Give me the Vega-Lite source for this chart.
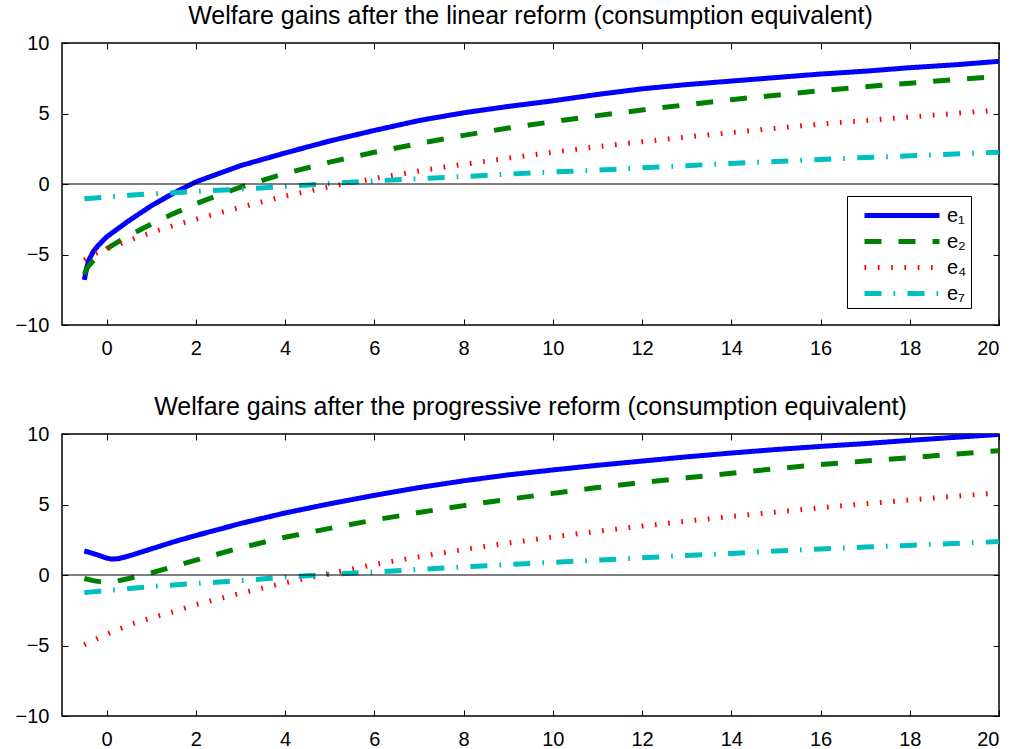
{
  "$schema": "https://vega.github.io/schema/vega-lite/v6.json",
  "padding": {"left": 14, "top": 3, "right": 5, "bottom": 0},
  "spacing": 35,
  "config": {
    "font": "Liberation Sans",
    "view": {"stroke": "black", "strokeWidth": 1.5},
    "axis": {"grid": false, "domain": false, "tickColor": "black", "tickSize": -6, "tickWidth": 1, "labelFontSize": 20, "labelColor": "black", "labelFont": "Liberation Sans", "labelPadding": 19},
    "title": {"fontSize": 25, "fontWeight": "normal", "color": "black", "font": "Liberation Sans", "offset": 4}
  },
  "resolve": {"legend": {"color": "independent", "strokeDash": "independent"}, "scale": {"color": "independent", "strokeDash": "independent"}},
  "datasets": {
    "linear": [
      {"s":"e₁","x":-0.5,"y":-6.8},{"s":"e₁","x":-0.45,"y":-6.0},{"s":"e₁","x":-0.4,"y":-5.4},{"s":"e₁","x":-0.3,"y":-4.8},{"s":"e₁","x":-0.2,"y":-4.4},{"s":"e₁","x":0,"y":-3.75},{"s":"e₁","x":0.5,"y":-2.6},{"s":"e₁","x":1,"y":-1.55},{"s":"e₁","x":1.5,"y":-0.65},{"s":"e₁","x":2,"y":0.15},{"s":"e₁","x":3,"y":1.3},{"s":"e₁","x":4,"y":2.2},{"s":"e₁","x":5,"y":3.05},{"s":"e₁","x":6,"y":3.8},{"s":"e₁","x":7,"y":4.5},{"s":"e₁","x":8,"y":5.05},{"s":"e₁","x":9,"y":5.5},{"s":"e₁","x":10,"y":5.9},{"s":"e₁","x":11,"y":6.35},{"s":"e₁","x":12,"y":6.75},{"s":"e₁","x":13,"y":7.05},{"s":"e₁","x":14,"y":7.3},{"s":"e₁","x":15,"y":7.55},{"s":"e₁","x":16,"y":7.8},{"s":"e₁","x":17,"y":8.0},{"s":"e₁","x":18,"y":8.25},{"s":"e₁","x":19,"y":8.45},{"s":"e₁","x":20,"y":8.7},
      {"s":"e₂","x":-0.5,"y":-6.4},{"s":"e₂","x":-0.45,"y":-6.05},{"s":"e₂","x":-0.4,"y":-5.8},{"s":"e₂","x":-0.3,"y":-5.45},{"s":"e₂","x":-0.2,"y":-5.15},{"s":"e₂","x":0,"y":-4.6},{"s":"e₂","x":0.5,"y":-3.65},{"s":"e₂","x":1,"y":-2.85},{"s":"e₂","x":1.5,"y":-2.1},{"s":"e₂","x":2,"y":-1.4},{"s":"e₂","x":3,"y":-0.22},{"s":"e₂","x":4,"y":0.75},{"s":"e₂","x":5,"y":1.55},{"s":"e₂","x":6,"y":2.25},{"s":"e₂","x":7,"y":2.87},{"s":"e₂","x":8,"y":3.45},{"s":"e₂","x":9,"y":3.97},{"s":"e₂","x":10,"y":4.42},{"s":"e₂","x":11,"y":4.85},{"s":"e₂","x":12,"y":5.25},{"s":"e₂","x":13,"y":5.62},{"s":"e₂","x":14,"y":5.98},{"s":"e₂","x":15,"y":6.3},{"s":"e₂","x":16,"y":6.62},{"s":"e₂","x":17,"y":6.9},{"s":"e₂","x":18,"y":7.15},{"s":"e₂","x":19,"y":7.4},{"s":"e₂","x":20,"y":7.62},
      {"s":"e₄","x":-0.5,"y":-5.4},{"s":"e₄","x":-0.4,"y":-5.2},{"s":"e₄","x":-0.2,"y":-4.85},{"s":"e₄","x":0,"y":-4.6},{"s":"e₄","x":0.5,"y":-4.0},{"s":"e₄","x":1,"y":-3.45},{"s":"e₄","x":1.5,"y":-2.95},{"s":"e₄","x":2,"y":-2.5},{"s":"e₄","x":3,"y":-1.65},{"s":"e₄","x":4,"y":-0.85},{"s":"e₄","x":5,"y":-0.2},{"s":"e₄","x":6,"y":0.4},{"s":"e₄","x":7,"y":0.92},{"s":"e₄","x":8,"y":1.4},{"s":"e₄","x":9,"y":1.83},{"s":"e₄","x":10,"y":2.25},{"s":"e₄","x":11,"y":2.65},{"s":"e₄","x":12,"y":3.0},{"s":"e₄","x":13,"y":3.33},{"s":"e₄","x":14,"y":3.65},{"s":"e₄","x":15,"y":3.95},{"s":"e₄","x":16,"y":4.25},{"s":"e₄","x":17,"y":4.5},{"s":"e₄","x":18,"y":4.75},{"s":"e₄","x":19,"y":5.0},{"s":"e₄","x":20,"y":5.25},
      {"s":"e₇","x":-0.5,"y":-1.05},{"s":"e₇","x":0,"y":-0.92},{"s":"e₇","x":0.5,"y":-0.8},{"s":"e₇","x":1,"y":-0.7},{"s":"e₇","x":1.5,"y":-0.62},{"s":"e₇","x":2,"y":-0.53},{"s":"e₇","x":3,"y":-0.37},{"s":"e₇","x":4,"y":-0.18},{"s":"e₇","x":5,"y":0.03},{"s":"e₇","x":6,"y":0.22},{"s":"e₇","x":7,"y":0.38},{"s":"e₇","x":8,"y":0.53},{"s":"e₇","x":9,"y":0.7},{"s":"e₇","x":10,"y":0.85},{"s":"e₇","x":11,"y":0.98},{"s":"e₇","x":12,"y":1.15},{"s":"e₇","x":13,"y":1.3},{"s":"e₇","x":14,"y":1.46},{"s":"e₇","x":15,"y":1.6},{"s":"e₇","x":16,"y":1.74},{"s":"e₇","x":17,"y":1.88},{"s":"e₇","x":18,"y":2.0},{"s":"e₇","x":19,"y":2.13},{"s":"e₇","x":20,"y":2.26}
    ],
    "progressive": [
      {"s":"e₁","x":-0.5,"y":1.7},{"s":"e₁","x":-0.4,"y":1.62},{"s":"e₁","x":-0.2,"y":1.42},{"s":"e₁","x":0,"y":1.2},{"s":"e₁","x":0.1,"y":1.13},{"s":"e₁","x":0.25,"y":1.15},{"s":"e₁","x":0.5,"y":1.35},{"s":"e₁","x":1,"y":1.85},{"s":"e₁","x":1.5,"y":2.35},{"s":"e₁","x":2,"y":2.8},{"s":"e₁","x":3,"y":3.65},{"s":"e₁","x":4,"y":4.4},{"s":"e₁","x":5,"y":5.05},{"s":"e₁","x":6,"y":5.65},{"s":"e₁","x":7,"y":6.2},{"s":"e₁","x":8,"y":6.68},{"s":"e₁","x":9,"y":7.1},{"s":"e₁","x":10,"y":7.45},{"s":"e₁","x":11,"y":7.78},{"s":"e₁","x":12,"y":8.08},{"s":"e₁","x":13,"y":8.38},{"s":"e₁","x":14,"y":8.65},{"s":"e₁","x":15,"y":8.9},{"s":"e₁","x":16,"y":9.12},{"s":"e₁","x":17,"y":9.32},{"s":"e₁","x":18,"y":9.55},{"s":"e₁","x":19,"y":9.76},{"s":"e₁","x":20,"y":9.97},
      {"s":"e₂","x":-0.5,"y":-0.25},{"s":"e₂","x":-0.3,"y":-0.4},{"s":"e₂","x":-0.1,"y":-0.5},{"s":"e₂","x":0,"y":-0.52},{"s":"e₂","x":0.25,"y":-0.42},{"s":"e₂","x":0.5,"y":-0.25},{"s":"e₂","x":1,"y":0.15},{"s":"e₂","x":1.5,"y":0.6},{"s":"e₂","x":2,"y":1.05},{"s":"e₂","x":3,"y":1.93},{"s":"e₂","x":4,"y":2.68},{"s":"e₂","x":5,"y":3.31},{"s":"e₂","x":6,"y":3.9},{"s":"e₂","x":7,"y":4.43},{"s":"e₂","x":8,"y":4.92},{"s":"e₂","x":9,"y":5.37},{"s":"e₂","x":10,"y":5.79},{"s":"e₂","x":11,"y":6.2},{"s":"e₂","x":12,"y":6.56},{"s":"e₂","x":13,"y":6.89},{"s":"e₂","x":14,"y":7.22},{"s":"e₂","x":15,"y":7.54},{"s":"e₂","x":16,"y":7.83},{"s":"e₂","x":17,"y":8.08},{"s":"e₂","x":18,"y":8.32},{"s":"e₂","x":19,"y":8.57},{"s":"e₂","x":20,"y":8.82},
      {"s":"e₄","x":-0.5,"y":-4.95},{"s":"e₄","x":0,"y":-4.2},{"s":"e₄","x":0.5,"y":-3.55},{"s":"e₄","x":1,"y":-3.05},{"s":"e₄","x":1.5,"y":-2.6},{"s":"e₄","x":2,"y":-2.1},{"s":"e₄","x":3,"y":-1.3},{"s":"e₄","x":4,"y":-0.55},{"s":"e₄","x":5,"y":0.1},{"s":"e₄","x":6,"y":0.75},{"s":"e₄","x":7,"y":1.3},{"s":"e₄","x":8,"y":1.8},{"s":"e₄","x":9,"y":2.27},{"s":"e₄","x":10,"y":2.7},{"s":"e₄","x":11,"y":3.1},{"s":"e₄","x":12,"y":3.47},{"s":"e₄","x":13,"y":3.82},{"s":"e₄","x":14,"y":4.15},{"s":"e₄","x":15,"y":4.47},{"s":"e₄","x":16,"y":4.77},{"s":"e₄","x":17,"y":5.05},{"s":"e₄","x":18,"y":5.32},{"s":"e₄","x":19,"y":5.58},{"s":"e₄","x":20,"y":5.83},
      {"s":"e₇","x":-0.5,"y":-1.25},{"s":"e₇","x":0,"y":-1.1},{"s":"e₇","x":1,"y":-0.82},{"s":"e₇","x":2,"y":-0.6},{"s":"e₇","x":3,"y":-0.4},{"s":"e₇","x":4,"y":-0.15},{"s":"e₇","x":5,"y":0.05},{"s":"e₇","x":6,"y":0.21},{"s":"e₇","x":7,"y":0.4},{"s":"e₇","x":8,"y":0.57},{"s":"e₇","x":9,"y":0.74},{"s":"e₇","x":10,"y":0.9},{"s":"e₇","x":11,"y":1.05},{"s":"e₇","x":12,"y":1.22},{"s":"e₇","x":13,"y":1.38},{"s":"e₇","x":14,"y":1.53},{"s":"e₇","x":15,"y":1.7},{"s":"e₇","x":16,"y":1.85},{"s":"e₇","x":17,"y":1.98},{"s":"e₇","x":18,"y":2.1},{"s":"e₇","x":19,"y":2.24},{"s":"e₇","x":20,"y":2.37}
    ]
  },
  "vconcat": [
    {
      "title": {"text": "Welfare gains after the linear reform (consumption equivalent)", "fontSize": 25, "fontWeight": "normal", "offset": 4},
      "width": 937, "height": 282,
      "layer": [
        {
          "data": {"name": "linear"},
          "mark": {"type": "line", "strokeWidth": 5, "clip": true},
          "encoding": {
            "x": {"field": "x", "type": "quantitative", "scale": {"domain": [-1, 20], "nice": false, "zero": false}, "axis": {"title": null, "values": [0,2,4,6,8,10,12,14,16,18,20]}},
            "y": {"field": "y", "type": "quantitative", "scale": {"domain": [-10, 10], "nice": false}, "axis": {"title": null, "values": [-10,-5,0,5,10]}},
            "color": {"field": "s", "type": "nominal", "scale": {"domain": ["e₁","e₂","e₄","e₇"], "range": ["#0000ff","#008000","#ff0000","#00bfbf"]},
              "legend": {"title": null, "orient": "none", "legendX": 785, "legendY": 153, "fillColor": "white", "strokeColor": "black", "padding": 4.5, "symbolType": "M-3,0H3", "symbolSize": 625, "symbolStrokeWidth": 5, "symbolOffset": 35.5, "labelFontSize": 20, "labelFont": "Liberation Sans", "labelColor": "black", "rowPadding": 1, "labelOffset": 30}},
            "strokeDash": {"field": "s", "type": "nominal", "scale": {"domain": ["e₁","e₂","e₄","e₇"], "range": [[1,0],[17,17],[1.7,11.6],[17,12,1.7,12.3]]},
              "legend": {"title": null, "orient": "none", "legendX": 785, "legendY": 153, "fillColor": "white", "strokeColor": "black", "padding": 4.5, "symbolType": "M-3,0H3", "symbolSize": 625, "symbolStrokeWidth": 5, "symbolOffset": 35.5, "labelFontSize": 20, "labelFont": "Liberation Sans", "labelColor": "black", "rowPadding": 1, "labelOffset": 30}}
          }
        },
        {
          "data": {"values": [{}]},
          "mark": {"type": "rule", "color": "black", "strokeWidth": 1.2},
          "encoding": {
            "x": {"datum": -1, "type": "quantitative", "scale": {"domain": [-1, 20], "nice": false, "zero": false}, "axis": {"title": null, "orient": "top", "labels": false, "values": [0,2,4,6,8,10,12,14,16,18,20]}},
            "x2": {"datum": 20},
            "y": {"datum": 0, "type": "quantitative", "scale": {"domain": [-10, 10], "nice": false}, "axis": {"title": null, "orient": "right", "labels": false, "values": [-10,-5,0,5,10]}}
          }
        }
      ],
      "resolve": {"axis": {"x": "independent", "y": "independent"}}
    },
    {
      "title": {"text": "Welfare gains after the progressive reform (consumption equivalent)", "fontSize": 25, "fontWeight": "normal", "offset": 4},
      "width": 937, "height": 282,
      "layer": [
        {
          "data": {"name": "progressive"},
          "mark": {"type": "line", "strokeWidth": 5, "clip": true},
          "encoding": {
            "x": {"field": "x", "type": "quantitative", "scale": {"domain": [-1, 20], "nice": false, "zero": false}, "axis": {"title": null, "values": [0,2,4,6,8,10,12,14,16,18,20]}},
            "y": {"field": "y", "type": "quantitative", "scale": {"domain": [-10, 10], "nice": false}, "axis": {"title": null, "values": [-10,-5,0,5,10]}},
            "color": {"field": "s", "type": "nominal", "scale": {"domain": ["e₁","e₂","e₄","e₇"], "range": ["#0000ff","#008000","#ff0000","#00bfbf"]}, "legend": null},
            "strokeDash": {"field": "s", "type": "nominal", "scale": {"domain": ["e₁","e₂","e₄","e₇"], "range": [[1,0],[17,17],[1.7,11.6],[17,12,1.7,12.3]]}, "legend": null}
          }
        },
        {
          "data": {"values": [{}]},
          "mark": {"type": "rule", "color": "black", "strokeWidth": 1.2},
          "encoding": {
            "x": {"datum": -1, "type": "quantitative", "scale": {"domain": [-1, 20], "nice": false, "zero": false}, "axis": {"title": null, "orient": "top", "labels": false, "values": [0,2,4,6,8,10,12,14,16,18,20]}},
            "x2": {"datum": 20},
            "y": {"datum": 0, "type": "quantitative", "scale": {"domain": [-10, 10], "nice": false}, "axis": {"title": null, "orient": "right", "labels": false, "values": [-10,-5,0,5,10]}}
          }
        }
      ],
      "resolve": {"axis": {"x": "independent", "y": "independent"}}
    }
  ]
}
